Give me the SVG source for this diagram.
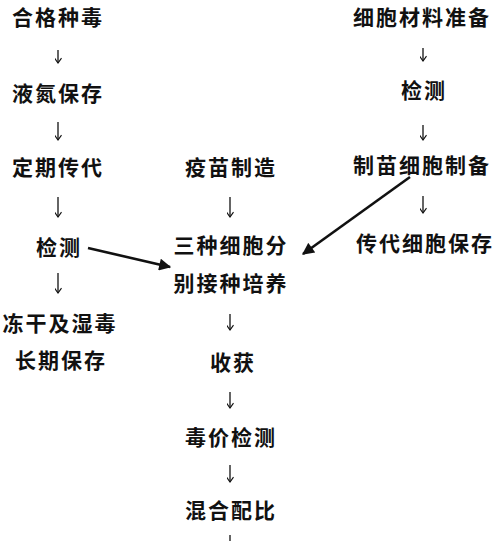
<svg xmlns="http://www.w3.org/2000/svg" width="500" height="541" viewBox="0 0 500 541">
<defs>
<style>
text{font-family:"Noto Sans CJK SC","Noto Sans CJK JP",sans-serif;font-size:21px;font-weight:700;fill:#111;text-anchor:middle;letter-spacing:2px}
.s{stroke:#111;stroke-width:1.3;fill:none}
.d{stroke:#111;stroke-width:2.6;fill:none}
</style>
<marker id="v" viewBox="0 0 10 10" refX="9" refY="5" markerWidth="7" markerHeight="7" markerUnits="userSpaceOnUse" orient="auto">
<path d="M2,0 L9,5 L2,10" stroke="#111" stroke-width="1.6" fill="none"/>
</marker>
<marker id="b" viewBox="0 0 10 10" refX="9" refY="5" markerWidth="14" markerHeight="12" markerUnits="userSpaceOnUse" orient="auto">
<path d="M0,0 L10,5 L0,10 Z" fill="#111"/>
</marker>
</defs>
<rect width="500" height="541" fill="#fff"/>
<g id="connectors">
<path class="s" d="M58,50 V63" marker-end="url(#v)"/>
<path class="s" d="M58,122 V140" marker-end="url(#v)"/>
<path class="s" d="M58,197 V217" marker-end="url(#v)"/>
<path class="s" d="M58,273 V293" marker-end="url(#v)"/>
<path class="s" d="M230,197 V217" marker-end="url(#v)"/>
<path class="s" d="M230,314 V330" marker-end="url(#v)"/>
<path class="s" d="M230,392 V408" marker-end="url(#v)"/>
<path class="s" d="M230,465 V482" marker-end="url(#v)"/>
<path class="s" d="M230,535 V541"/>
<path class="s" d="M423,48 V61" marker-end="url(#v)"/>
<path class="s" d="M423,125 V140" marker-end="url(#v)"/>
<path class="s" d="M423,196 V213" marker-end="url(#v)"/>
<path class="d" d="M88,248 L170,267" marker-end="url(#b)"/>
<path class="d" d="M410,177 L303,254" marker-end="url(#b)"/>
</g>
<g id="n1"><text x="58" y="25">合格种毒</text></g>
<g id="n2"><text x="58" y="101">液氮保存</text></g>
<g id="n3"><text x="58" y="175">定期传代</text></g>
<g id="n4"><text x="59" y="255">检测</text></g>
<g id="n5"><text x="60" y="331">冻干及湿毒</text><text x="61" y="368">长期保存</text></g>
<g id="m1"><text x="231" y="175">疫苗制造</text></g>
<g id="m2"><text x="231" y="253">三种细胞分</text><text x="231" y="291">别接种培养</text></g>
<g id="m3"><text x="233" y="370">收获</text></g>
<g id="m4"><text x="231" y="445">毒价检测</text></g>
<g id="m5"><text x="231" y="518">混合配比</text></g>
<g id="r1"><text x="422" y="25">细胞材料准备</text></g>
<g id="r2"><text x="424" y="98">检测</text></g>
<g id="r3"><text x="422" y="173">制苗细胞制备</text></g>
<g id="r4"><text x="425" y="251">传代细胞保存</text></g>
</svg>
